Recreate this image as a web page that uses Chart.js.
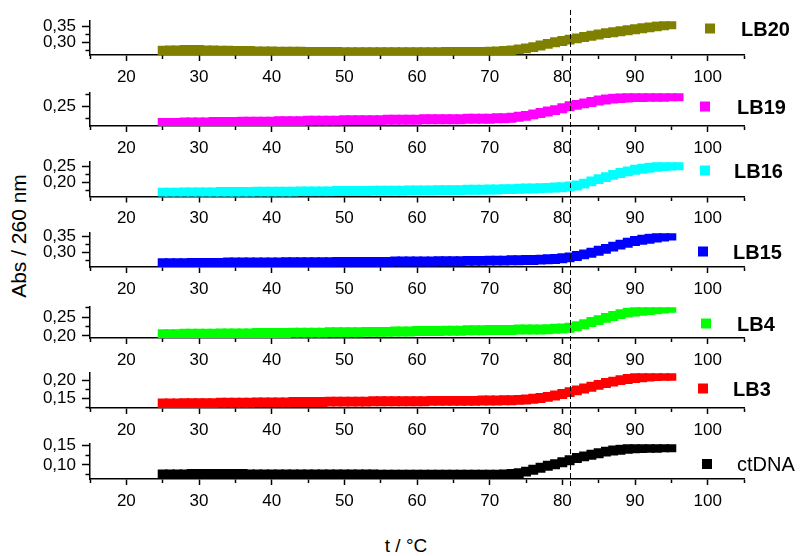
<!DOCTYPE html>
<html><head><meta charset="utf-8">
<script src="https://cdn.jsdelivr.net/npm/chart.js@4"></script>
<style>
body{margin:0;background:#fff;width:802px;height:556px;position:relative;overflow:hidden;font-family:'Liberation Sans',Arial,sans-serif;color:#000;}
#ytitle{position:absolute;left:19px;top:236px;transform:translate(-50%,-50%) rotate(-90deg);font-size:21px;white-space:nowrap;}
#xtitle{position:absolute;left:406px;top:546px;transform:translate(-50%,-50%);font-size:19px;white-space:nowrap;}
</style></head><body>
<div id="ytitle">Abs / 260 nm</div>
<div id="xtitle">t / °C</div>
<script>
// ---- data ----
const temps = [25,26,27,28,29,30,31,32,33,34,35,36,37,38,39,40,41,42,43,44,45,46,47,48,49,50,51,52,53,54,55,56,57,58,59,60,61,62,63,64,65,66,67,68,69,70,71,72,73,74,75,76,77,78,79,80,81,82,83,84,85,86,87,88,89,90,91,92,93,94,95,96];
const lb20 = [0.275,0.276,0.276,0.277,0.277,0.277,0.276,0.276,0.275,0.275,
  0.274,0.274,0.274,0.273,0.273,0.273,0.272,0.272,0.272,0.272,
  0.271,0.271,0.271,0.271,0.271,0.270,0.270,0.270,0.270,0.270,
  0.270,0.270,0.270,0.270,0.270,0.270,0.270,0.270,0.270,0.271,
  0.271,0.271,0.271,0.271,0.271,0.272,0.273,0.274,0.276,0.279,
  0.282,0.286,0.291,0.296,0.301,0.305,0.309,0.313,0.317,0.321,
  0.325,0.329,0.332,0.335,0.338,0.341,0.344,0.347,0.350,0.353,
  0.356,null];
const lb19 = [0.216,0.216,0.216,0.217,0.217,0.217,0.217,0.218,0.218,0.218,
  0.218,0.219,0.219,0.219,0.219,0.219,0.220,0.220,0.220,0.220,
  0.221,0.221,0.221,0.221,0.221,0.222,0.222,0.222,0.222,0.222,
  0.222,0.223,0.223,0.223,0.223,0.223,0.224,0.224,0.224,0.224,
  0.224,0.224,0.225,0.225,0.225,0.225,0.226,0.226,0.227,0.229,
  0.231,0.234,0.237,0.240,0.243,0.247,0.251,0.254,0.257,0.260,
  0.263,0.265,0.267,0.268,0.269,0.270,0.270,0.271,0.271,0.271,
  0.272,0.272];
const lb16 = [0.169,0.169,0.169,0.170,0.170,0.170,0.170,0.170,0.171,0.171,
  0.171,0.171,0.171,0.172,0.172,0.172,0.172,0.172,0.172,0.173,
  0.173,0.173,0.173,0.173,0.174,0.174,0.174,0.174,0.174,0.175,
  0.175,0.175,0.175,0.175,0.176,0.176,0.176,0.176,0.177,0.177,
  0.177,0.177,0.178,0.178,0.178,0.179,0.179,0.180,0.180,0.181,
  0.182,0.182,0.183,0.184,0.185,0.186,0.188,0.191,0.197,0.204,
  0.211,0.217,0.224,0.230,0.235,0.240,0.243,0.246,0.249,0.251,
  0.253,0.254];
const lb15 = [0.268,0.268,0.268,0.268,0.269,0.269,0.269,0.269,0.269,0.270,
  0.270,0.270,0.270,0.270,0.270,0.270,0.270,0.271,0.271,0.271,
  0.271,0.271,0.271,0.271,0.272,0.272,0.272,0.272,0.272,0.272,
  0.272,0.272,0.273,0.273,0.273,0.273,0.273,0.273,0.274,0.274,
  0.274,0.274,0.275,0.275,0.275,0.276,0.276,0.276,0.277,0.277,
  0.278,0.278,0.279,0.280,0.281,0.283,0.286,0.290,0.295,0.300,
  0.306,0.312,0.319,0.325,0.331,0.336,0.340,0.343,0.347,0.350,
  0.353,null];
const lb4 = [0.205,0.205,0.205,0.206,0.206,0.206,0.206,0.206,0.207,0.207,
  0.207,0.207,0.207,0.208,0.208,0.208,0.208,0.208,0.209,0.209,
  0.209,0.209,0.209,0.210,0.210,0.210,0.210,0.210,0.211,0.211,
  0.211,0.211,0.212,0.212,0.212,0.213,0.213,0.213,0.213,0.214,
  0.214,0.214,0.215,0.215,0.215,0.216,0.216,0.216,0.216,0.217,
  0.217,0.217,0.217,0.218,0.219,0.220,0.222,0.226,0.231,0.237,
  0.242,0.248,0.253,0.258,0.262,0.265,0.267,0.269,0.271,0.273,
  0.275,null];
const lb3 = [0.136,0.136,0.136,0.137,0.137,0.137,0.137,0.137,0.138,0.138,
  0.138,0.138,0.138,0.139,0.139,0.139,0.139,0.139,0.140,0.140,
  0.140,0.140,0.140,0.141,0.141,0.141,0.141,0.141,0.141,0.142,
  0.142,0.142,0.142,0.142,0.142,0.142,0.142,0.143,0.143,0.143,
  0.143,0.143,0.143,0.143,0.144,0.144,0.144,0.145,0.145,0.146,
  0.147,0.149,0.151,0.154,0.158,0.162,0.167,0.172,0.177,0.182,
  0.187,0.192,0.196,0.200,0.203,0.206,0.208,0.210,0.211,0.212,
  0.212,null];
const ctdna = [0.076,0.076,0.076,0.076,0.077,0.077,0.077,0.077,0.077,0.077,
  0.077,0.077,0.076,0.076,0.076,0.076,0.076,0.076,0.076,0.076,
  0.076,0.076,0.076,0.076,0.076,0.076,0.076,0.076,0.076,0.076,
  0.075,0.075,0.075,0.075,0.075,0.075,0.075,0.075,0.075,0.075,
  0.075,0.075,0.075,0.075,0.075,0.075,0.075,0.076,0.077,0.079,
  0.083,0.088,0.093,0.098,0.102,0.107,0.112,0.118,0.122,0.126,
  0.130,0.134,0.137,0.139,0.141,0.1425,0.143,0.144,0.144,0.145,
  0.145,null];

const seriesNames = ['LB20','LB19','LB16','LB15','LB4','LB3','ctDNA'];
const seriesValues = [lb20, lb19, lb16, lb15, lb4, lb3, ctdna];
const seriesColors = ['#808000','#ff00ff','#00ffff','#0000ff','#00ff00','#ff0000','#000000'];
const yMins = [0.2617, 0.2098, 0.1572, 0.2563, 0.1946, 0.1236, 0.0643];
const yMaxs = [0.3659, 0.2783, 0.2632, 0.3601, 0.2764, 0.2190, 0.1530];
const xMin = 15, xMax = 105, xStep = 5, yStep = 0.025;
const meltTemp = 81;

// ---- layout (page pixels) ----
const panelTops    = [17, 89, 158, 229, 303, 369, 440];
const panelBottoms = [55, 126, 196.5, 267, 338, 408, 479];
const legendMarkX  = [710, 705, 705, 703, 706, 703, 707];
const legendMarkY  = [28.5, 106.5, 170.5, 251.5, 323.5, 388.5, 464];
const legendTextX  = [741, 737, 734, 733, 737, 733, 737];
const legendBold   = [true, true, true, true, true, true, false];
const dashEndPage  = 487;
const PADTOP = 12;

const FONT = "'Liberation Sans', Arial, Helvetica, sans-serif";
Chart.defaults.font.family = FONT;
Chart.defaults.color = '#000';

const isMajorY = v => Math.abs(v * 20 - Math.round(v * 20)) < 1e-6;
const isMajorX = v => Math.abs(v % 10) < 1e-6;

const deco = {
  id: 'panelDeco',
  afterDatasetsDraw(chart, args, o) {
    const ctx = chart.ctx;
    const px = Math.round(chart.scales.x.getPixelForValue(o.melt)) + 0.5;
    ctx.save();
    ctx.strokeStyle = '#000'; ctx.lineWidth = 1; ctx.setLineDash([5, 3]);
    ctx.beginPath(); ctx.moveTo(px, o.segStart); ctx.lineTo(px, o.segEnd); ctx.stroke();
    ctx.restore();
  },
  afterDraw(chart, args, o) {
    const ctx = chart.ctx;
    ctx.save();
    ctx.fillStyle = o.color;
    ctx.fillRect(o.mx - 5, o.my - 5, 10, 10);
    ctx.fillStyle = '#000';
    ctx.font = (o.bold ? 'bold ' : '') + '20px ' + FONT;
    ctx.textBaseline = 'middle';
    ctx.textAlign = 'left';
    ctx.fillText(o.label, o.tx, o.my + 1.5);
    ctx.restore();
  }
};

seriesNames.forEach((name, i) => {
  const canvasTop = panelTops[i] - PADTOP;
  const ph = panelBottoms[i] - panelTops[i];
  const ch = Math.ceil(ph + PADTOP + 46);
  const xh = ch - PADTOP - ph;
  const cv = document.createElement('canvas');
  cv.width = 802; cv.height = ch;
  cv.style.position = 'absolute'; cv.style.left = '0px'; cv.style.top = canvasTop + 'px';
  document.body.appendChild(cv);

  const segStart = (i === 0 ? 10 : panelTops[i] - 7) - canvasTop;
  const segEnd = (i < seriesNames.length - 1 ? panelTops[i + 1] - 7 : dashEndPage) - canvasTop;

  const pts = [];
  temps.forEach((t, j) => { if (seriesValues[i][j] !== null) pts.push({x: t, y: seriesValues[i][j]}); });

  new Chart(cv, {
    type: 'scatter',
    data: { datasets: [{
      label: name, data: pts, showLine: false,
      backgroundColor: seriesColors[i], borderColor: seriesColors[i],
      pointStyle: 'rect', pointRadius: 7, pointHoverRadius: 7, pointBorderWidth: 0,
      clip: 0
    }]},
    options: {
      responsive: false, animation: false, events: [],
      layout: { padding: { top: PADTOP, left: 0, right: 58, bottom: 0 } },
      plugins: {
        legend: { display: false }, tooltip: { enabled: false },
        panelDeco: {
          melt: meltTemp, segStart, segEnd,
          color: seriesColors[i], label: name, bold: legendBold[i],
          mx: legendMarkX[i], my: legendMarkY[i] - canvasTop, tx: legendTextX[i]
        }
      },
      scales: {
        x: {
          type: 'linear', position: 'bottom', min: xMin, max: xMax,
          afterFit: s => { s.height = xh; },
          ticks: {
            stepSize: xStep, autoSkip: false, maxRotation: 0, includeBounds: false,
            padding: 6, color: '#000', font: { size: 17 },
            callback: v => isMajorX(v) ? String(v) : ''
          },
          grid: {
            display: true, drawOnChartArea: false, drawTicks: true,
            tickLength: 6, tickWidth: 1.5, tickColor: '#000',
            tickBorderDash: c => (c.tick && !isMajorX(c.tick.value)) ? [3.5, 20] : [],
            tickBorderDashOffset: 0
          },
          border: { display: true, color: '#000', width: 1.5 }
        },
        y: {
          type: 'linear', position: 'left', min: yMins[i], max: yMaxs[i],
          afterFit: s => { s.width = 90; },
          ticks: {
            stepSize: yStep, autoSkip: false, includeBounds: false,
            padding: 6, color: '#000', font: { size: 17 },
            callback: v => isMajorY(v) ? v.toFixed(2).replace('.', ',') : ''
          },
          grid: {
            display: true, drawOnChartArea: false, drawTicks: true,
            tickLength: 8, tickWidth: 1.5, tickColor: '#000',
            tickBorderDash: c => (c.tick && !isMajorY(c.tick.value)) ? [4, 3.5] : [],
            tickBorderDashOffset: c => (c.tick && !isMajorY(c.tick.value)) ? 4 : 0
          },
          border: { display: true, color: '#000', width: 1.5 }
        }
      }
    },
    plugins: [deco]
  });
});
</script>
</body></html>
